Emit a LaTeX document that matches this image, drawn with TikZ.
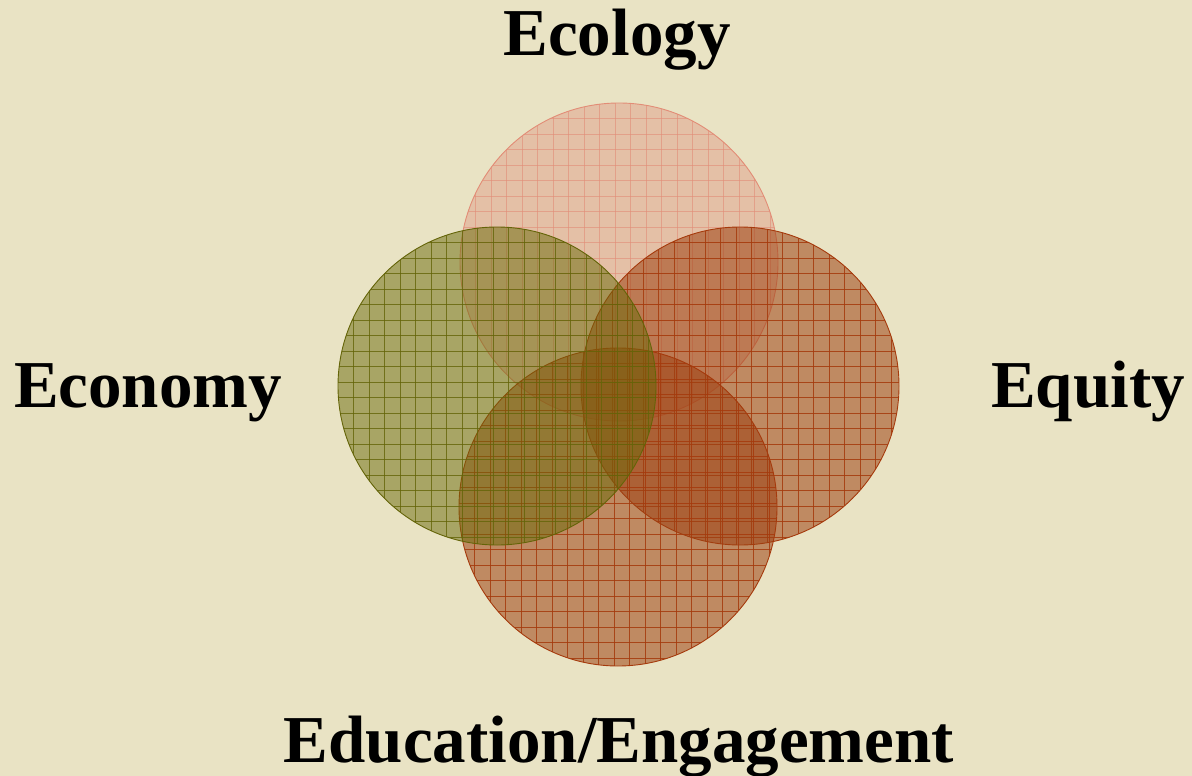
\documentclass[tikz,border=0pt]{standalone}
\usepackage{fontspec}
\setmainfont{Liberation Serif}
\definecolor{bgc}{RGB}{233,227,196}
\definecolor{pinkfill}{RGB}{222,150,130}
\definecolor{pinkgrid}{RGB}{226,140,118}
\definecolor{greenfill}{RGB}{105,105,8}
\definecolor{greengrid}{RGB}{100,100,8}
\definecolor{brownfill}{RGB}{158,65,18}
\definecolor{browngrid}{RGB}{165,58,12}
\tikzset{
  label/.style={font=\fontsize{67}{72}\selectfont\bfseries, text=black, anchor=base, inner sep=0pt},
}
\newcommand{\gridcircle}[6]{% cx, cy, fill, fillopacity, grid, gridopacity
  \begin{scope}
    \clip (#1,#2) circle (159);
    \fill[#3, fill opacity=#4] (#1,#2) circle (159);
    \begin{scope}[shift={(#1-159,#2-159)}]
      \foreach \k in {1,...,20}{
        \draw[#5, draw opacity=#6, line width=0.9pt] (\k*15.5,0) -- (\k*15.5,318);
        \draw[#5, draw opacity=#6, line width=0.9pt] (0,\k*15.5) -- (318,\k*15.5);
      }
    \end{scope}
  \end{scope}
  \draw[#5, line width=0.9pt] (#1,#2) circle (159);
}
\begin{document}
\begin{tikzpicture}[x=1pt,y=-1pt]
\fill[bgc] (0,0) rectangle (1192,776);
\useasboundingbox (0,0) rectangle (1192,776);
\gridcircle{619}{262}{pinkfill}{0.45}{pinkgrid}{0.6}
\gridcircle{740}{386}{brownfill}{0.55}{browngrid}{0.85}
\gridcircle{618}{507}{brownfill}{0.55}{browngrid}{0.85}
\gridcircle{497}{386}{greenfill}{0.5}{greengrid}{0.8}
\node[label] (ecology) at (617,56) {Ecology};
\node[label] (economy) at (148,407) {Economy};
\node[label] (equity) at (1088,407) {Equity};
\node[label] (education) at (619,762) {Education/Engagement};
\end{tikzpicture}
\end{document}
